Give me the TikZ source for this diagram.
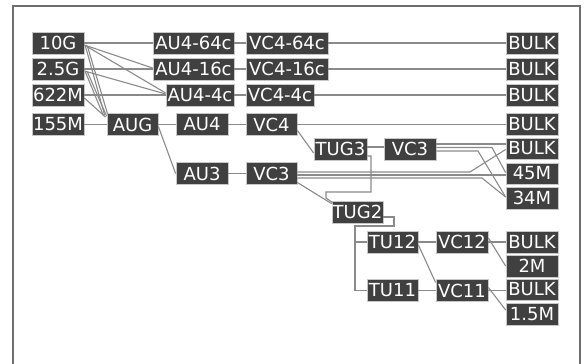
\documentclass[tikz,border=0pt]{standalone}
\usepackage{fontspec}
\setmainfont{DejaVu Sans}
\definecolor{boxfill}{HTML}{404040}
\definecolor{boxedge}{HTML}{C8C8C8}
\definecolor{linecol}{HTML}{8A8A8A}
\definecolor{framecol}{HTML}{6E6E6E}
\begin{document}
\begin{tikzpicture}[x=1pt,y=-1pt,
  box/.style={rectangle, fill=boxfill, draw=boxedge, line width=0.8pt, text=white,
    inner sep=0pt, minimum height=22pt, minimum width=52pt,
    font=\fontsize{18}{18}\selectfont},
  conn/.style={draw=linecol, line width=1.1pt}]
\useasboundingbox (0,0) rectangle (584,364);
\draw[framecol, line width=2pt] (13,366) -- (13,6) -- (580,6) -- (580,366);

% column 1
\node[box] (g10)  at (58,43)    {10G};
\node[box] (g25)  at (58,69)    {2.5G};
\node[box] (m622) at (58,95)    {622M};
\node[box] (m155) at (58,124.5) {155M};
\node[box, minimum width=51pt] (aug) at (132.5,124.5) {AUG};
% AU4-nc
\node[box, minimum width=81pt] (au464) at (193.5,43) {AU4-64c};
\node[box, minimum width=81pt] (au416) at (193.5,69) {AU4-16c};
\node[box, minimum width=68pt] (au44)  at (200,95)   {AU4-4c};
\node[box] (au4) at (202,124.5) {AU4};
\node[box] (au3) at (202,173.5) {AU3};
% VC4-nc
\node[box, minimum width=82pt] (vc464) at (287,43) {VC4-64c};
\node[box, minimum width=82pt] (vc416) at (287,69) {VC4-16c};
\node[box, minimum width=68pt] (vc44)  at (280,95) {VC4-4c};
\node[box, minimum width=51pt] (vc4)  at (271.5,124.5) {VC4};
\node[box, minimum width=51pt] (vc3l) at (271.5,173.5) {VC3};
\node[box, minimum width=53pt] (tug3) at (340.5,149) {TUG3};
\node[box] (vc3u) at (410,149) {VC3};
\node[box, minimum width=51pt] (tug2) at (357.5,212) {TUG2};
\node[box, minimum width=51pt] (tu12) at (392.5,242) {TU12};
\node[box, minimum width=51pt] (tu11) at (392.5,290.5) {TU11};
\node[box] (vc12) at (462,242) {VC12};
\node[box] (vc11) at (462,290.5) {VC11};
% right column
\node[box] (bk1) at (532,43)    {BULK};
\node[box] (bk2) at (532,69)    {BULK};
\node[box] (bk3) at (532,95)    {BULK};
\node[box] (bk4) at (532,124.5) {BULK};
\node[box, minimum height=21pt] (bk5) at (532,148.5) {BULK};
\node[box, minimum height=21pt] (m45) at (532,173.5) {45M};
\node[box] (m34) at (532,198)   {34M};
\node[box] (bk6) at (532,242)   {BULK};
\node[box] (m2)  at (532,266)   {2M};
\node[box, minimum height=21pt] (bk7) at (532,289.5) {BULK};
\node[box] (m15) at (532,314)   {1.5M};

% sources to AU4-nc
\draw[conn] (g10.east) -- (au464.west);
\draw[conn] ([yshift=-2pt]g10.east) -- ([yshift=1pt]au416.west);
\draw[conn] ([yshift=-2pt]g10.east) -- ([yshift=2pt]au44.west);
\draw[conn] (g25.east) -- (au416.west);
\draw[conn] ([yshift=-2pt]g25.east) -- ([yshift=1pt]au44.west);
\draw[conn] (m622.east) -- (au44.west);
% sources to AUG
\draw[conn] ([xshift=1pt,yshift=-3pt]g10.east) -- ([xshift=-2pt,yshift=-2pt]aug.north west);
\draw[conn] ([xshift=3pt,yshift=-3pt]g10.east) -- ([xshift=1pt,yshift=-1pt]aug.north west);
\draw[conn] ([xshift=1pt,yshift=-3pt]g25.east) -- ([xshift=-3pt,yshift=-3pt]aug.north west);
\draw[conn] ([xshift=3pt,yshift=-3pt]g25.east) -- ([xshift=0pt,yshift=-3pt]aug.north west);
\draw[conn] ([yshift=-3pt]m622.east) -- ([xshift=-1pt,yshift=-4pt]aug.north west);
\draw[conn] (m155.east) -- (aug.west);
% AU4-nc to VC4-nc to BULK
\draw[conn] (au464.east) -- (vc464.west);
\draw[conn] (au416.east) -- (vc416.west);
\draw[conn] (au44.east) -- (vc44.west);
\draw[conn] (vc464.east) -- (bk1.west);
\draw[conn] (vc416.east) -- (bk2.west);
\draw[conn] (vc44.east) -- (bk3.west);
% AUG branch
\draw[conn] (aug.east) -- (au4.west);
\draw[conn] ([yshift=-2pt]aug.east) -- (au3.west);
\draw[conn] (au4.east) -- (vc4.west);
\draw[conn] (vc4.east) -- (bk4.west);
\draw[conn] (au3.east) -- (vc3l.west);
\draw[conn] ([yshift=-6pt]vc4.east) -- ([yshift=-4pt]tug3.west);
\draw[conn] ([yshift=2pt]tug3.east) -- ([yshift=2pt]vc3u.west);
% VC3 (upper) outputs
\draw[conn] ([yshift=5pt]vc3u.east) -- ([yshift=4.5pt]bk5.west);
\draw[conn] ([yshift=1.5pt]vc3u.east) -- (492,147.5) -- ([yshift=1pt]m45.west);
\draw[conn] ([yshift=-2pt]vc3u.east) -- (478,151) -- ([yshift=1pt]m34.west);
% VC3 (lower) outputs
\draw[conn] ([yshift=1.5pt]vc3l.east) -- (470,172) -- ([yshift=-1pt]bk5.west);
\draw[conn] ([yshift=-1.5pt]vc3l.east) -- ([yshift=-1.5pt]m45.west);
\draw[conn] ([yshift=-4.5pt]vc3l.east) -- (482,178) -- ([yshift=1pt]m34.west);
% to TUG2
\draw[conn] ([yshift=-7pt]tug3.east) -- (371,156) -- (371,192) -- (326,192) -- (326,198) -- ([xshift=1pt,yshift=-2pt]tug2.north west);
\draw[conn] ([yshift=-9pt]vc3l.east) -- ([yshift=-3pt]tug2.north west);
% TUG2 to TU12 / TU11
\coordinate (tj) at (355,242);
\draw[conn] ([yshift=-5pt]tug2.east) -- (394,217) -- (394,226) -- (355,226) |- (tu11.west);
\draw[conn] (tj) -- (tu12.west);
\draw[conn] (tu12.east) -- (vc12.west);
\draw[conn] ([yshift=-3pt]tu12.east) -- ([yshift=8pt]vc11.west);
\draw[conn] (tu11.east) -- (vc11.west);
\draw[conn] (vc12.east) -- (bk6.west);
\draw[conn] ([yshift=4pt]vc12.east) -- (m2.west);
\draw[conn] (vc11.east) -- ([yshift=-1pt]bk7.west);
\draw[conn] ([yshift=3pt]vc11.east) -- ([yshift=4pt]m15.west);
\end{tikzpicture}
\end{document}
